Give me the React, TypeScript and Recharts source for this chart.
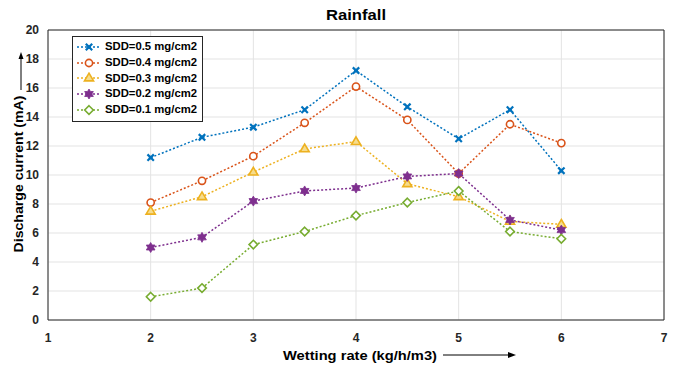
import React from 'react';
import { LineChart, Line, XAxis, YAxis, CartesianGrid, ReferenceLine } from 'recharts';

const wettingRates = [2, 2.5, 3, 3.5, 4, 4.5, 5, 5.5, 6];
const sdd05 = [11.2, 12.6, 13.3, 14.5, 17.2, 14.7, 12.5, 14.5, 10.3];
const sdd04 = [8.1, 9.6, 11.3, 13.6, 16.1, 13.8, 10.1, 13.5, 12.2];
const sdd03 = [7.5, 8.5, 10.2, 11.8, 12.3, 9.4, 8.5, 6.8, 6.6];
const sdd02 = [5.0, 5.7, 8.2, 8.9, 9.1, 9.9, 10.1, 6.9, 6.2];
const sdd01 = [1.6, 2.2, 5.2, 6.1, 7.2, 8.1, 8.9, 6.1, 5.6];
const xTicks = [1, 2, 3, 4, 5, 6, 7];
const yTicks = [0, 2, 4, 6, 8, 10, 12, 14, 16, 18, 20];

const series = [
  { key: 's05', name: 'SDD=0.5 mg/cm2', values: sdd05, color: '#0072BD', marker: 'x' },
  { key: 's04', name: 'SDD=0.4 mg/cm2', values: sdd04, color: '#D95319', marker: 'circle' },
  { key: 's03', name: 'SDD=0.3 mg/cm2', values: sdd03, color: '#EDB120', marker: 'triangle' },
  { key: 's02', name: 'SDD=0.2 mg/cm2', values: sdd02, color: '#7E2F8E', marker: 'hexagram' },
  { key: 's01', name: 'SDD=0.1 mg/cm2', values: sdd01, color: '#77AC30', marker: 'diamond' },
];

const data = wettingRates.map((x, i) => {
  const row: any = { x };
  series.forEach((s) => { row[s.key] = s.values[i]; });
  return row;
});

const FONT = '"Liberation Sans", Arial, sans-serif';
const AX = '#262626';

function renderMarker(type: string, cx: number, cy: number, color: string, k?: any) {
  if (cx == null || cy == null || isNaN(cx) || isNaN(cy)) return <g key={k} />;
  if (type === 'x') {
    const r = 3.2;
    return (
      <g key={k}>
        <line x1={cx - r} y1={cy - r} x2={cx + r} y2={cy + r} stroke={color} strokeWidth={2.2} />
        <line x1={cx - r} y1={cy + r} x2={cx + r} y2={cy - r} stroke={color} strokeWidth={2.2} />
        <circle cx={cx} cy={cy} r={1.8} fill={color} />
      </g>
    );
  }
  if (type === 'circle') {
    return <circle key={k} cx={cx} cy={cy} r={3.6} fill="#fff" stroke={color} strokeWidth={1.6} />;
  }
  if (type === 'triangle') {
    const r = 4.8;
    const pts = `${cx},${cy - r} ${cx + r * 0.95},${cy + r * 0.6} ${cx - r * 0.95},${cy + r * 0.6}`;
    return <polygon key={k} points={pts} fill="#f6dc8c" stroke={color} strokeWidth={1.6} />;
  }
  if (type === 'hexagram') {
    const R = 5, r = 2.9;
    const p: string[] = [];
    for (let i = 0; i < 12; i++) {
      const a = (Math.PI / 6) * i - Math.PI / 2;
      const rr = i % 2 === 0 ? R : r;
      p.push(`${cx + rr * Math.cos(a)},${cy + rr * Math.sin(a)}`);
    }
    return <polygon key={k} points={p.join(' ')} fill={color} stroke={color} strokeWidth={0.8} />;
  }
  const r = 4.3;
  const pts = `${cx},${cy - r} ${cx + r},${cy} ${cx},${cy + r} ${cx - r},${cy}`;
  return <polygon key={k} points={pts} fill="#fff" stroke={color} strokeWidth={1.6} />;
}

const LegendBox = () => (
  <div
    style={{
      position: 'absolute',
      left: 72,
      top: 36,
      border: `1px solid ${AX}`,
      background: '#fff',
      padding: '2px 5px 3px 3px',
      fontFamily: FONT,
      fontWeight: 'bold',
      fontSize: 11.3,
      color: '#000',
      lineHeight: '15.8px',
      width: 'max-content',
    }}
  >
    {series.map((s) => (
      <div key={s.key} style={{ display: 'flex', alignItems: 'center', height: 15.8, whiteSpace: 'nowrap' }}>
        <svg width={26} height={12} style={{ marginRight: 3 }}>
          <line x1={1} y1={6} x2={25} y2={6} stroke={s.color} strokeWidth={1.5} strokeDasharray="2 2" />
          {renderMarker(s.marker, 13, 6, s.color)}
        </svg>
        <span>{s.name}</span>
      </div>
    ))}
  </div>
);

const YLabel = () => {
  const cx = 18;
  const cy = 174;
  return (
    <g>
      <text
        x={cx}
        y={cy}
        transform={`rotate(-90 ${cx} ${cy})`}
        textAnchor="middle"
        dominantBaseline="central"
        fontFamily={FONT}
        fontWeight="bold"
        fontSize={13.5}
        textLength={157}
        lengthAdjust="spacingAndGlyphs"
        fill="#000"
      >
        Discharge current (mA)
      </text>
      <line x1={21} y1={90} x2={21} y2={57} stroke="#000" strokeWidth={1} />
      <polygon points="21,52 18.5,59 23.5,59" fill="#000" />
    </g>
  );
};

const XLabel = () => (
  <g>
    <text
      x={283}
      y={355}
      textAnchor="start"
      dominantBaseline="central"
      fontFamily={FONT}
      fontWeight="bold"
      fontSize={13.5}
      textLength={154}
      lengthAdjust="spacingAndGlyphs"
      fill="#000"
    >
      Wetting rate (kg/h/m3)
    </text>
    <line x1={443} y1={355} x2={511} y2={355} stroke="#000" strokeWidth={1} />
    <polygon points="516,355 508,352 508,358" fill="#000" />
  </g>
);

export default function App() {
  return (
    <div style={{ position: 'absolute', left: 0, top: 0, width: 676, height: 366, background: '#fff' }}>
      <LineChart width={676} height={366} data={data} margin={{ top: 30, right: 12, bottom: 26, left: 8 }}>
        <text x={356} y={15} textAnchor="middle" dominantBaseline="central" fontFamily={FONT} fontWeight="bold" fontSize={14.5} textLength={60} lengthAdjust="spacingAndGlyphs" fill="#000">
          Rainfall
        </text>
        <CartesianGrid stroke="#e3e3e3" strokeWidth={1} />
        <XAxis
          dataKey="x"
          type="number"
          domain={[1, 7]}
          ticks={xTicks}
          allowDataOverflow
          height={20}
          stroke={AX}
          tickLine={false}
          tickMargin={7}
          tick={{ fill: AX, fontSize: 12, fontWeight: 'bold', fontFamily: FONT }}
          label={<XLabel />}
        />
        <YAxis
          type="number"
          domain={[0, 20]}
          ticks={yTicks}
          width={40}
          stroke={AX}
          tickLine={false}
          tickMargin={3}
          interval={0}
          tick={{ fill: AX, fontSize: 12, fontWeight: 'bold', fontFamily: FONT }}
          label={<YLabel />}
        />
        <ReferenceLine y={20} stroke={AX} strokeWidth={1} />
        <ReferenceLine x={7} stroke={AX} strokeWidth={1} />
        {series.map((s) => (
          <Line
            key={s.key}
            dataKey={s.key}
            name={s.name}
            stroke={s.color}
            strokeWidth={1.5}
            strokeDasharray="2 2"
            isAnimationActive={false}
            dot={(p: any) => renderMarker(s.marker, p.cx, p.cy, s.color, `${s.key}-${p.index}`)}
            activeDot={false}
          />
        ))}
      </LineChart>
      <LegendBox />
    </div>
  );
}
